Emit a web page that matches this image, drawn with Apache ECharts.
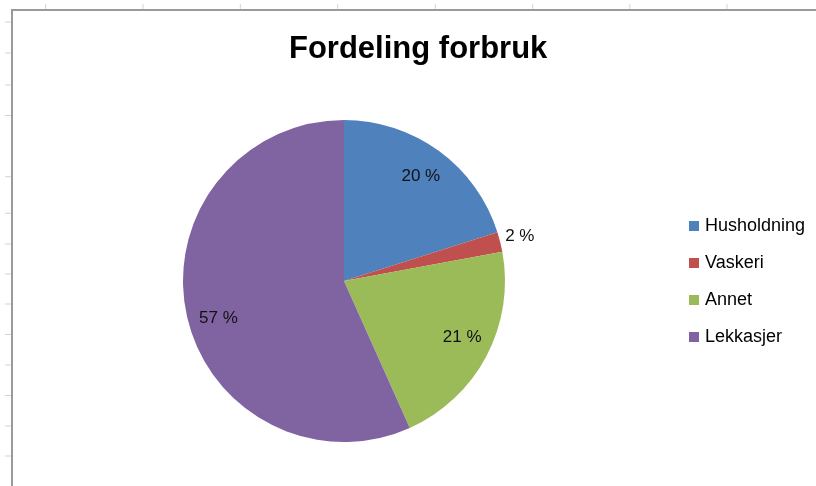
<!DOCTYPE html>
<html>
<head>
<meta charset="utf-8">
<script src="https://cdn.jsdelivr.net/npm/echarts@6/dist/echarts.min.js"></script>
<style>
html,body{margin:0;padding:0;background:#fff;}
#chart{width:816px;height:486px;}
</style>
</head>
<body>
<div id="chart"></div>
<script>
const titleText = 'Fordeling forbruk';
const categories = ['Husholdning', 'Vaskeri', 'Annet', 'Lekkasjer'];
const values = [20.1, 2.0, 21.2, 56.7];
const colors = ['#4F81BD', '#C0504D', '#9BBB59', '#8064A2'];
const outsideLabelCategories = ['Vaskeri'];
const topTickX = [45.7, 143, 240.3, 337.7, 435.3, 532.7, 629.8, 727];
const leftTickY = [22, 53, 85, 115.5, 176.7, 213.3, 244, 274, 304, 334.5, 365, 395.5, 426, 456];

const FONT = '"Liberation Sans", Arial, sans-serif';
const chart = echarts.init(document.getElementById('chart'), null, {renderer: 'canvas'});

// small label nudges mimicking Excel's "best fit" label placement
const labelOffsets = [[-2, 3], [0, -6], [0, -6], [5, 9]];

const mainData = categories.map((c, i) => ({name: c, value: values[i], itemStyle: {color: colors[i]}}));
const labelData = categories.map((c, i) => {
  const outside = outsideLabelCategories.indexOf(c) >= 0;
  return {
    name: c, value: values[i],
    label: {position: outside ? 'outside' : 'inside', offset: labelOffsets[i]},
    labelLine: {show: false, length: 0, length2: 0}
  };
});

const graphics = [];
topTickX.forEach(x => graphics.push({type: 'line', silent: true, shape: {x1: x, y1: 4, x2: x, y2: 9}, style: {stroke: '#d4d4d4', lineWidth: 1}}));
leftTickY.forEach(y => graphics.push({type: 'line', silent: true, shape: {x1: 5, y1: y, x2: 11, y2: y}, style: {stroke: '#d4d4d4', lineWidth: 1}}));
graphics.push({type: 'polyline', silent: true, shape: {points: [[12, 486], [12, 10], [816, 10]]}, style: {stroke: '#9a9a9a', lineWidth: 2, fill: null}});

chart.setOption({
  animation: false,
  backgroundColor: '#fff',
  title: {
    text: titleText,
    left: 284,
    top: 29,
    textStyle: {fontFamily: FONT, fontSize: 31, fontWeight: 'bold', color: '#000'}
  },
  legend: {
    orient: 'vertical',
    left: 689,
    top: 216,
    padding: 0,
    data: categories,
    icon: 'rect',
    itemWidth: 10,
    itemHeight: 10,
    itemGap: 17,
    textStyle: {fontFamily: FONT, fontSize: 18, color: '#000', lineHeight: 20, padding: [0, 0, 0, 1]},
    selectedMode: false
  },
  graphic: graphics,
  series: [
    {
      type: 'pie',
      name: 'main',
      center: [344, 281],
      radius: [0, 161],
      startAngle: 90,
      clockwise: true,
      silent: true,
      label: {show: false},
      labelLine: {show: false},
      data: mainData
    },
    {
      type: 'pie',
      name: 'labels',
      center: [344, 281],
      radius: [100, 161],
      startAngle: 90,
      clockwise: true,
      silent: true,
      itemStyle: {color: 'rgba(0,0,0,0)'},
      label: {
        show: true,
        fontFamily: FONT,
        fontSize: 17,
        color: '#111',
        formatter: p => Math.round(p.percent) + ' %'
      },
      labelLine: {show: false},
      data: labelData
    }
  ]
});
</script>
</body>
</html>
